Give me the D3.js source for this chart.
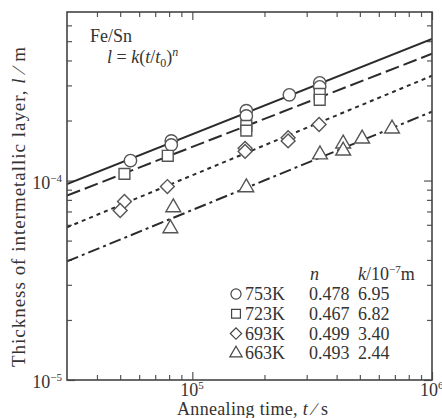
<!DOCTYPE html>
<html>
<head>
<meta charset="utf-8">
<script src="https://cdn.jsdelivr.net/npm/d3@7"></script>
<style>
  body { margin: 0; background: #fff; }
  text { font-family: "Liberation Serif", "DejaVu Serif", serif; fill: #333; }
</style>
</head>
<body>
<div id="chart"></div>
<script>
'use strict';

// fitted parameters, l = k (t/t0)^n
const series = ["753K", "723K", "693K", "663K"];
const nVals = [0.478, 0.467, 0.499, 0.493];
const kVals = [6.95, 6.82, 3.40, 2.44];   // x 1e-7 m

const t753 = [5.52e4, 8.17e4, 8.17e4, 1.68e5, 1.68e5, 2.54e5, 3.4e5, 3.4e5];
const l753 = [1.26e-4, 1.58e-4, 1.51e-4, 2.24e-4, 2.11e-4, 2.69e-4, 3.09e-4, 2.95e-4];
const t723 = [5.21e4, 7.9e4, 1.68e5, 1.68e5, 3.4e5, 3.4e5];
const l723 = [1.08e-4, 1.33e-4, 1.88e-4, 1.78e-4, 2.72e-4, 2.54e-4];
const t693 = [5.21e4, 5.0e4, 7.87e4, 1.66e5, 1.66e5, 2.51e5, 2.51e5, 3.38e5];
const l693 = [7.85e-5, 7.08e-5, 9.33e-5, 1.45e-4, 1.40e-4, 1.64e-4, 1.58e-4, 1.91e-4];
const t663 = [8.33e4, 8.1e4, 1.68e5, 3.41e5, 4.26e5, 4.26e5, 5.11e5, 6.81e5];
const l663 = [7.33e-5, 5.75e-5, 9.23e-5, 1.35e-4, 1.53e-4, 1.41e-4, 1.62e-4, 1.82e-4];

const xMajor = [1e5, 1e6];
const xMajorExp = ["5", "6"];
const xMinor = [4e4, 5e4, 6e4, 7e4, 8e4, 9e4, 2e5, 3e5, 4e5, 5e5, 6e5, 7e5, 8e5, 9e5];
const yMajor = [1e-5, 1e-4];
const yMajorExp = ["\u22125", "\u22124"];
const yMinor = [2e-5, 3e-5, 4e-5, 5e-5, 6e-5, 7e-5, 8e-5, 9e-5, 2e-4, 3e-4, 4e-4, 5e-4, 6e-4];

const width = 442;
const height = 418;
const margin = {top: 12, right: 10, bottom: 38, left: 67};
const pw = width - margin.left - margin.right;
const ph = height - margin.top - margin.bottom;

const x = d3.scaleLog().domain([3e4, 1e6]).range([0, pw]);
const y = d3.scaleLog().domain([1e-5, 7e-4]).range([ph, 0]);

const svg = d3.select('#chart')
              .append('svg')
              .attr('width', width)
              .attr('height', height);

const g = svg.append('g')
             .attr('transform', 'translate(' + margin.left + ',' + margin.top + ')');

g.append('clipPath').attr('id', 'clip')
 .append('rect').attr('width', pw).attr('height', ph);

// inward ticks on all four sides
function addTicks(axisFn, scale, values, size, transform) {
  const a = g.append('g')
             .attr('transform', transform)
             .call(axisFn(scale).tickValues(values).tickSize(-size).tickFormat(''));
  a.select('.domain').remove();
  a.selectAll('line').attr('stroke', '#555').attr('stroke-width', 1.2);
}
addTicks(d3.axisBottom, x, xMajor, 8, 'translate(0,' + ph + ')');
addTicks(d3.axisBottom, x, xMinor, 5, 'translate(0,' + ph + ')');
addTicks(d3.axisTop, x, xMajor, 8, 'translate(0,0)');
addTicks(d3.axisTop, x, xMinor, 5, 'translate(0,0)');
addTicks(d3.axisLeft, y, yMajor, 8, 'translate(0,0)');
addTicks(d3.axisLeft, y, yMinor, 5, 'translate(0,0)');
addTicks(d3.axisRight, y, yMajor, 8, 'translate(' + pw + ',0)');
addTicks(d3.axisRight, y, yMinor, 5, 'translate(' + pw + ',0)');

// fit lines
const dashes = [null, '14,5', '4,4', '12,4,3,4'];
const lineGen = d3.line()
                  .x(function(d) { return x(d.t); })
                  .y(function(d) { return y(d.l); });

series.forEach(function(s, i) {
  const ends = x.domain().map(function(t) {
    return {t: t, l: kVals[i] * 1e-7 * Math.pow(t, nVals[i])};
  });
  g.append('path')
   .attr('clip-path', 'url(#clip)')
   .attr('d', lineGen(ends))
   .attr('fill', 'none')
   .attr('stroke', '#2b2b2b')
   .attr('stroke-width', 2)
   .attr('stroke-dasharray', dashes[i]);
});

// markers
const shapes = [d3.symbolCircle, d3.symbolSquare, d3.symbolSquare, d3.symbolTriangle];
const sizes = [120, 118, 96, 95];
const rotations = [0, 0, 45, 0];
const pointSets = [
  [t753, l753], [t723, l723], [t693, l693], [t663, l663]
];

pointSets.forEach(function(ps, i) {
  const pts = ps[0].map(function(t, j) { return {t: t, l: ps[1][j]}; });
  g.selectAll('.pt' + i)
   .data(pts)
   .enter()
   .append('path')
   .attr('class', 'pt' + i)
   .attr('d', d3.symbol().type(shapes[i]).size(sizes[i]))
   .attr('transform', function(d) {
     return 'translate(' + x(d.t) + ',' + y(d.l) + ') rotate(' + rotations[i] + ')';
   })
   .attr('fill', '#fff')
   .attr('stroke', '#555')
   .attr('stroke-width', 1.4);
});

// frame
g.append('rect')
 .attr('width', pw)
 .attr('height', ph)
 .attr('fill', 'none')
 .attr('stroke', '#444')
 .attr('stroke-width', 1.6);

// tick labels
xMajor.forEach(function(v, i) {
  const t = svg.append('text')
               .attr('x', margin.left + x(v) - 12)
               .attr('y', margin.top + ph + 16)
               .style('font-size', '18px');
  t.append('tspan').text('10');
  t.append('tspan').attr('dy', -7).style('font-size', '11px').text(xMajorExp[i]);
});
yMajor.forEach(function(v, i) {
  const t = svg.append('text')
               .attr('x', margin.left - 5)
               .attr('y', margin.top + y(v) + 8)
               .attr('text-anchor', 'end')
               .style('font-size', '18px');
  t.append('tspan').text('10');
  t.append('tspan').attr('dy', -7).style('font-size', '11px').text(yMajorExp[i]);
});

// axis titles
const xt = svg.append('text')
              .attr('x', 177)
              .attr('y', 415)
              .attr('textLength', 151)
              .style('font-size', '18px');
xt.append('tspan').text('Annealing time, ');
xt.append('tspan').style('font-style', 'italic').text('t');
xt.append('tspan').text(' \u2215 s');

const yt = svg.append('text')
              .attr('transform', 'translate(25,367) rotate(-90)')
              .attr('textLength', 320)
              .style('font-size', '19px');
yt.append('tspan').text('Thickness of intermetallic layer, ');
yt.append('tspan').style('font-style', 'italic').text('l');
yt.append('tspan').text(' \u2215 m');

// annotation
svg.append('text').attr('x', 90).attr('y', 42).style('font-size', '18px').text('Fe/Sn');
const eq = svg.append('text').attr('x', 107).attr('y', 63).style('font-size', '18px');
eq.append('tspan').style('font-style', 'italic').text('l');
eq.append('tspan').text(' = ');
eq.append('tspan').style('font-style', 'italic').text('k');
eq.append('tspan').text('(');
eq.append('tspan').style('font-style', 'italic').text('t');
eq.append('tspan').text('/');
eq.append('tspan').style('font-style', 'italic').text('t');
eq.append('tspan').attr('dy', 4).style('font-size', '12px').text('0');
eq.append('tspan').attr('dy', -4).text(')');
eq.append('tspan').attr('dy', -7).style('font-size', '12px').style('font-style', 'italic').text('n');

// legend table
const leg = svg.append('g');
leg.append('text').attr('x', 310).attr('y', 280).style('font-size', '18px')
   .style('font-style', 'italic').text('n');
const kh = leg.append('text').attr('x', 358).attr('y', 280).style('font-size', '18px');
kh.append('tspan').style('font-style', 'italic').text('k');
kh.append('tspan').text('/10');
kh.append('tspan').attr('dy', -7).style('font-size', '11px').text('\u22127');
kh.append('tspan').attr('dy', 7).text('m');

const legSizes = [80, 78, 64, 66];
series.forEach(function(s, i) {
  const yy = 300 + i * 19.8;
  leg.append('path')
     .attr('d', d3.symbol().type(shapes[i]).size(legSizes[i]))
     .attr('transform', 'translate(236,' + (yy - 6) + ') rotate(' + rotations[i] + ')')
     .attr('fill', '#fff')
     .attr('stroke', '#444')
     .attr('stroke-width', 1.2);
  leg.append('text').attr('x', 245).attr('y', yy).style('font-size', '18px').text(s);
  leg.append('text').attr('x', 309).attr('y', yy).style('font-size', '18px').text(nVals[i].toFixed(3));
  leg.append('text').attr('x', 358).attr('y', yy).style('font-size', '18px').text(kVals[i].toFixed(2));
});
</script>
</body>
</html>
